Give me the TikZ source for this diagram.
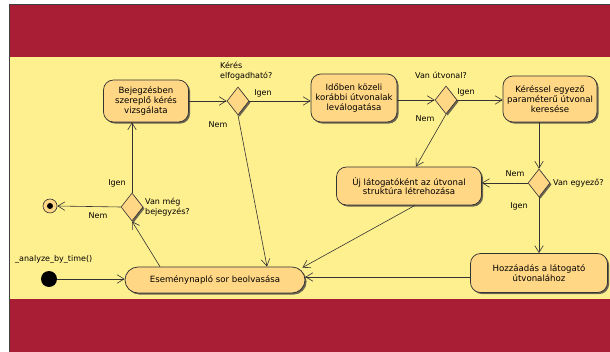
\documentclass[tikz,border=0pt]{standalone}
\usepackage{fontspec}
\setmainfont{DejaVu Sans}
\usetikzlibrary{arrows.meta,shapes.geometric,shadows,calc}
\definecolor{bandred}{HTML}{A91E35}
\definecolor{bgyellow}{HTML}{FFF08F}
\definecolor{boxfill}{HTML}{FFD785}
\definecolor{linegray}{HTML}{333333}
\definecolor{shadowgray}{HTML}{6B6450}
\begin{document}
\begin{tikzpicture}[x=1pt,y=-1pt,
  every node/.style={font=\fontsize{8}{9.7}\selectfont},
  shad/.style={drop shadow={shadow xshift=1.6pt,shadow yshift=-1.6pt,fill=shadowgray,opacity=1}},
  act/.style={draw=linegray, fill=boxfill, rounded corners=10pt, align=center, inner sep=2pt, line width=0.75pt, shad, font=\fontsize{8.6}{9.8}\selectfont},
  dec/.style={diamond, draw=linegray, fill=boxfill, inner sep=0pt, minimum width=22pt, minimum height=28pt, line width=0.6pt, shad},
  flow/.style={draw=linegray, line width=0.6pt, -{Straight Barb[length=7pt,width=8.5pt]}},
  lbl/.style={inner sep=0pt, align=left}
]
\useasboundingbox (0,0) rectangle (610,352);
\fill[white] (0,0) rectangle (610,352);
\fill[bandred] (9,4) rectangle (610,352);
\fill[bgyellow] (9.6,57) rectangle (610,299);
\draw[black!75, line width=0.8pt] (9,352) -- (9,4) -- (610,4);

% activities
\node[act, minimum width=85pt, minimum height=42pt] (b1) at (146,101) {Bejegzésben\\szereplő kérés\\vizsgálata};
\node[act, minimum width=86pt, minimum height=48pt] (b2) at (354,98) {Időben közeli\\korábbi útvonalak\\leválogatása};
\node[act, minimum width=94pt, minimum height=46pt] (b3) at (550,99) {Kéréssel egyező\\paraméterű útvonal\\keresése};
\node[act, minimum width=145pt, minimum height=38pt] (uj) at (409,186) {Új látogatóként az útvonal\\struktúra létrehozása};
\node[act, minimum width=137pt, minimum height=39pt] (hz) at (539,273) {Hozzáadás a látogató\\útvonalához};
\node[act, rounded corners=13pt, minimum width=180pt, minimum height=26pt] (ev) at (215,280) {Eseménynapló sor beolvasása};

% decisions
\node[dec] (d1) at (238,101) {};
\node[dec] (d2) at (446,100) {};
\node[dec] (d3) at (539,183) {};
\node[dec] (d4) at (132,207) {};

% start / end
\node[circle, fill=black, minimum size=16pt, inner sep=0pt] (init) at (49,279) {};
\node[circle, draw=linegray, fill=boxfill, minimum size=14pt, inner sep=0pt, line width=0.6pt] (fin) at (50,206) {};
\node[circle, fill=black, minimum size=6pt, inner sep=0pt] (findot) at (fin) {};

% labels
\node[lbl, anchor=west] (lstart) at (15,259) {\_analyze\_by\_time()};
\node[lbl, anchor=west] (lq1) at (220,71) {Kérés\\elfogadható?};
\node[lbl, anchor=west] (lq2) at (415,75) {Van útvonal?};
\node[lbl, anchor=west] (lq3) at (553,183) {Van egyező?};
\node[lbl, anchor=west] (lq4) at (145,207) {Van még\\bejegyzés?};
\node[lbl] (i1) at (263,93) {Igen};
\node[lbl] (n1) at (218,125) {Nem};
\node[lbl] (i2) at (466,92) {Igen};
\node[lbl] (n2) at (425,119) {Nem};
\node[lbl] (n3) at (515,174) {Nem};
\node[lbl] (i3) at (519,206) {Igen};
\node[lbl] (i4) at (117,183) {Igen};
\node[lbl] (n4) at (98,216) {Nem};

% flows
\draw[flow] (init.east) -- (init -| ev.west);
\draw[flow] ($(ev.north)+(-55,0)$) -- (d4.south);
\draw[flow] (d4.west) -- (fin.east);
\draw[flow] (d4.north) -- (d4.north |- b1.south);
\draw[flow] (b1.east |- d1) -- (d1.west);
\draw[flow] (d1.east) -- (d1.east -| b2.west);
\draw[flow] (d1.south) -- ($(ev.north)+(52,0)$);
\draw[flow] (b2.east |- d2) -- (d2.west);
\draw[flow] (d2.east) -- (d2.east -| b3.west);
\draw[flow] (d2.south) -- ($(uj.north)+(7,0)$);
\draw[flow] (b3.south -| d3) -- (d3.north);
\draw[flow] (d3.west) -- (d3.west -| uj.east);
\draw[flow] (d3.south) -- (d3.south |- hz.north);
\draw[flow] ($(hz.west)+(0,4)$) -- ($(ev.east)+(0,-3)$);
\draw[flow] ($(uj.south)+(6,0)$) -- ($(ev.north east)+(-3,1)$);
\end{tikzpicture}
\end{document}
